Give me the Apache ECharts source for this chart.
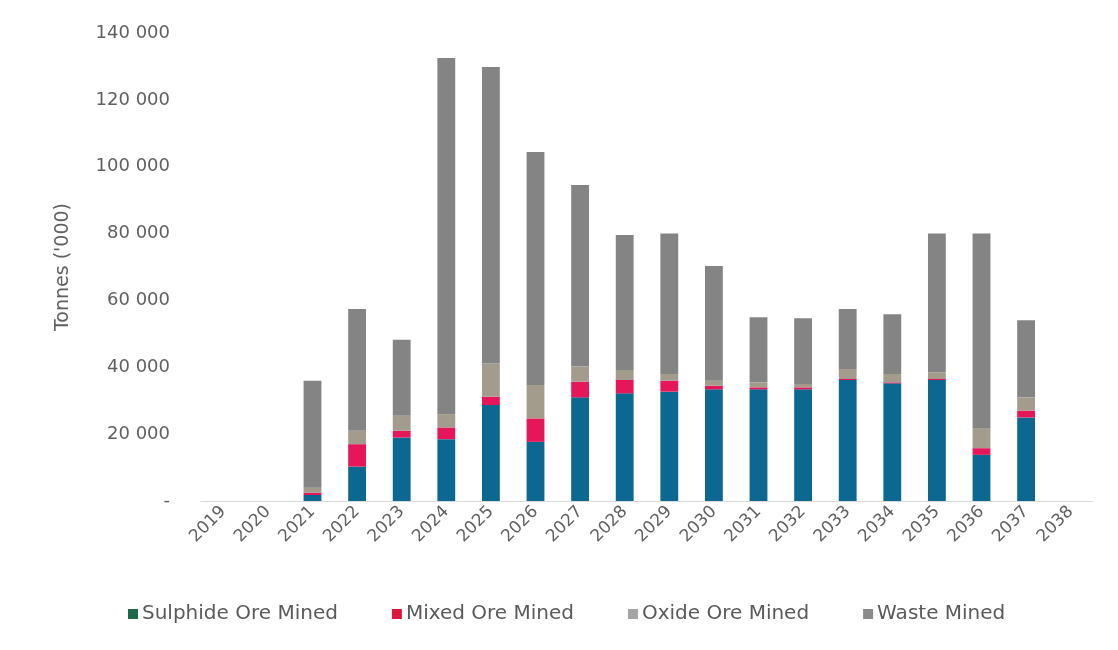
<!DOCTYPE html>
<html>
<head>
<meta charset="utf-8">
<script src="https://cdn.jsdelivr.net/npm/echarts@6/dist/echarts.min.js"></script>
<style>
html,body{margin:0;padding:0;background:#fff;}
#chart{width:1118px;height:650px;}
</style>
</head>
<body>
<div id="chart"></div>
<script>
const years = ['2019','2020','2021','2022','2023','2024','2025','2026','2027','2028','2029','2030','2031','2032','2033','2034','2035','2036','2037','2038'];
const seriesNames = ['Sulphide Ore Mined','Mixed Ore Mined','Oxide Ore Mined','Waste Mined'];
const sulphide = [0,0,1800,10300,19000,18500,28700,17700,31000,32200,32700,33400,33400,33400,36200,35200,36200,13800,25000,0];
const mixed    = [0,0,700,6700,2000,3500,2500,7000,4700,4000,3300,1100,600,600,300,300,300,2000,2000,0];
const oxide    = [0,0,1500,4000,4500,4000,10000,10000,4500,3000,2000,1500,1500,1000,3000,2500,2000,6000,4000,0];
const waste    = [0,0,32000,36400,22700,106500,88600,69700,54300,40400,42000,34300,19500,19700,17900,17900,41500,58200,23100,0];
const yTicks = [0,20000,40000,60000,80000,100000,120000,140000];

const barColors = ['#0c6890','#e5175a','#a39c8c','#848484'];
const legendColors = ['#1b6b4b','#d9173f','#a5a5a5','#8a8a8a'];
const seriesData = [sulphide, mixed, oxide, waste];
const FONT = 'DejaVu Sans, sans-serif';

function fmt(v){
  if (v === 0) return '-';
  return String(v).replace(/\B(?=(\d{3})+(?!\d))/g, ' ');
}

const chart = echarts.init(document.getElementById('chart'), null, {renderer:'canvas'});
chart.setOption({
  backgroundColor:'#ffffff',
  animation:false,
  grid:{left:201,right:25,top:33,bottom:149,containLabel:false},
  legend:{
    bottom:21,
    left:123,
    width:1000,
    itemWidth:10,
    itemHeight:10,
    itemGap:54,
    icon:'rect',
    textStyle:{color:'#5a5a5a',fontSize:20,fontFamily:FONT,padding:[0,0,0,-1]},
    data: seriesNames.map((n,i)=>({name:n,itemStyle:{color:legendColors[i]}}))
  },
  xAxis:{
    type:'category',
    data:years,
    axisLine:{show:true,lineStyle:{color:'#d9d9d9',width:1}},
    axisTick:{show:false},
    axisLabel:{rotate:45,color:'#606060',fontSize:17,fontFamily:FONT,margin:8,interval:0}
  },
  yAxis:{
    type:'value',
    min:yTicks[0],
    max:yTicks[yTicks.length-1],
    interval:yTicks[1]-yTicks[0],
    name:"Tonnes ('000)",
    nameLocation:'middle',
    nameGap:128,
    nameRotate:90,
    nameTextStyle:{color:'#606060',fontSize:19,fontFamily:FONT},
    axisLine:{show:false},
    axisTick:{show:false},
    splitLine:{show:false},
    axisLabel:{color:'#606060',fontSize:18,fontFamily:FONT,margin:31,formatter:fmt}
  },
  series: seriesNames.map((n,i)=>({
    name:n,
    type:'bar',
    stack:'total',
    barWidth:'40%',
    itemStyle:{color:barColors[i]},
    data:seriesData[i]
  }))
});
</script>
</body>
</html>
